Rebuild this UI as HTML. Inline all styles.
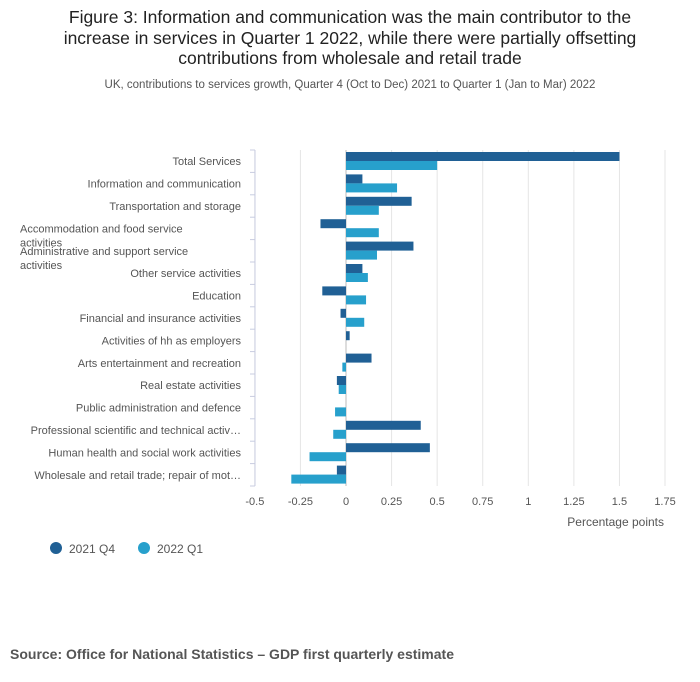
<!DOCTYPE html>
<html><head><meta charset="utf-8"><style>
body{margin:0;background:#fff;font-family:"Liberation Sans",sans-serif;}
#wrap{position:relative;width:700px;height:682px;overflow:hidden}
h1{position:absolute;left:0;top:7px;width:700px;margin:0;text-align:center;font-size:17.5px;font-weight:normal;color:#222;line-height:20.5px;white-space:nowrap}
.sub{position:absolute;top:79px;width:700px;text-align:center;font-size:11.5px;color:#555}
.src{position:absolute;left:10px;top:646px;font-size:14px;font-weight:bold;color:#555}
</style></head><body><div id="wrap">
<h1>Figure 3: Information and communication was the main contributor to the<br>increase in services in Quarter 1 2022, while there were partially offsetting<br>contributions from wholesale and retail trade</h1>
<div class="sub">UK, contributions to services growth, Quarter 4 (Oct to Dec) 2021 to Quarter 1 (Jan to Mar) 2022</div>
<svg id="chart" width="700" height="600" style="position:absolute;left:0;top:0" font-family="Liberation Sans, sans-serif"></svg>
<div class="src">Source: Office for National Statistics – GDP first quarterly estimate</div>
</div>
<script>
const categories=["Total Services","Information and communication","Transportation and storage","Accommodation and food service activities","Administrative and support service activities","Other service activities","Education","Financial and insurance activities","Activities of hh as employers","Arts entertainment and recreation","Real estate activities","Public administration and defence","Professional scientific and technical activ…","Human health and social work activities","Wholesale and retail trade; repair of mot…"];
const q4=[1.5,0.09,0.36,-0.14,0.37,0.09,-0.13,-0.03,0.02,0.14,-0.05,0,0.41,0.46,-0.05];
const q1=[0.5,0.28,0.18,0.18,0.17,0.12,0.11,0.1,0,-0.02,-0.04,-0.06,-0.07,-0.2,-0.3];
const ticks=[-0.5,-0.25,0,0.25,0.5,0.75,1,1.25,1.5,1.75];
const tickLabels=["-0.5","-0.25","0","0.25","0.5","0.75","1","1.25","1.5","1.75"];
const svg=document.getElementById('chart');const NS='http://www.w3.org/2000/svg';
function x(v){return 346+v*182.3;}
const top0=150,band=22.4;
function y(i){return top0+i*band;}
function mk(t,a,p){const e=document.createElementNS(NS,t);for(const k in a)e.setAttribute(k,a[k]);(p||svg).appendChild(e);return e;}
ticks.forEach((t,i)=>{
 const g=mk('line',{x1:x(t),x2:x(t),y1:top0,y2:y(categories.length),stroke:t===0?'#bbb':'#e5e5e5'});
 
 
 const l=mk('text',{x:x(t),y:505,'text-anchor':'middle','font-size':11,fill:'#555'});l.textContent=tickLabels[i];
 
 
});
const ax=mk('line',{x1:255,x2:255,y1:top0,y2:y(categories.length),stroke:'#c8cce0'});


for(let i=0;i<=categories.length;i++){const tk=mk('line',{x1:250,x2:255,y1:y(i),y2:y(i),stroke:'#c8cce0'});
 
 }
categories.forEach((c,i)=>{
 const cy=y(i)+band/2;
 if(c.length>36&&c.indexOf('…')<0&&c.indexOf('Human')<0){
  const words=c.split(' ');const n=words.length-1;const first=words.slice(0,n).join(' ');const rest=words.slice(n).join(' ');
  const t1=mk('text',{x:20,y:cy+4,'font-size':11,fill:'#555'});t1.textContent=first;
  
  
  const t2=mk('text',{x:20,y:cy+18,'font-size':11,fill:'#555'});t2.textContent=rest;
  
  
 } else {
  const t=mk('text',{x:241,y:cy+4,'text-anchor':'end','font-size':11,fill:'#555'});t.textContent=c;
  
  
 }
 const a=q4[i],b=q1[i];
 const r1=mk('rect',{x:Math.min(x(0),x(a)),y:y(i)+2,width:Math.abs(x(a)-x(0)),height:9,fill:'#206095'});
 
 
 const r2=mk('rect',{x:Math.min(x(0),x(b)),y:y(i)+11,width:Math.abs(x(b)-x(0)),height:9,fill:'#27a0cc'});
 
 
});
const xt=mk('text',{x:664,y:526,'text-anchor':'end','font-size':12,fill:'#555'});xt.textContent='Percentage points';


[['2021 Q4','#206095',56],['2022 Q1','#27a0cc',144]].forEach(([n,c,lx])=>{
 const g=mk('g',{});
 
 
 mk('circle',{cx:lx,cy:548,r:6,fill:c},g);
 const t=mk('text',{x:lx+13,y:553,'font-size':12,fill:'#555'},g);t.textContent=n;
});
</script></body></html>
